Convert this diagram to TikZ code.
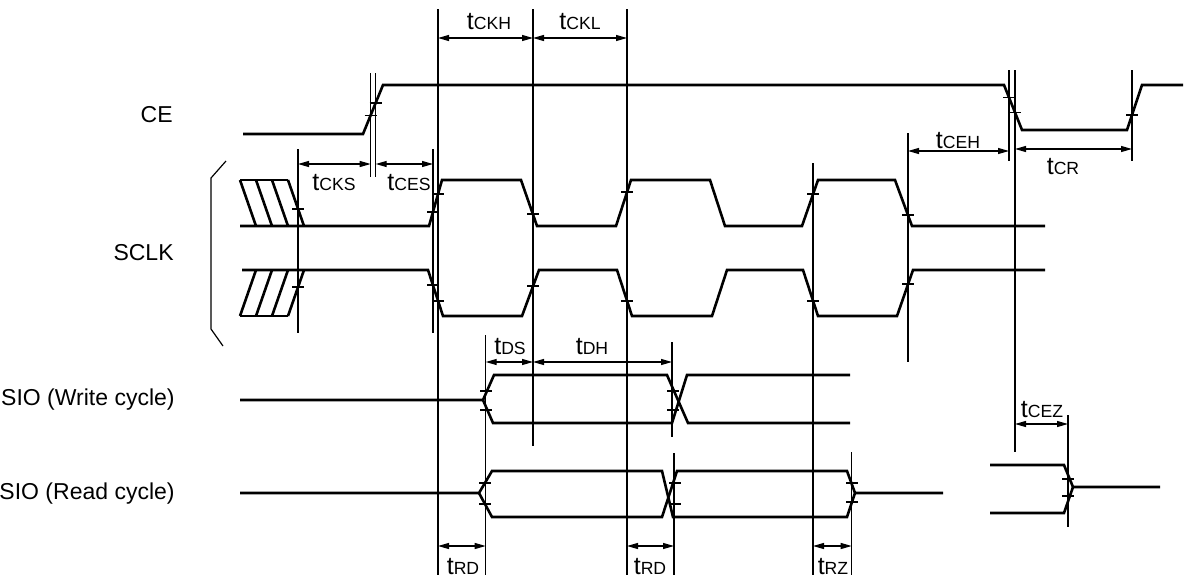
\documentclass[tikz,border=0pt]{standalone}
\usepackage{fontspec}
\setmainfont{Liberation Sans}
\usepackage{tikz}
\usetikzlibrary{calc,positioning}
\usetikzlibrary{arrows.meta}
\tikzset{>={Triangle[width=3pt,length=5.5pt]}}

\newcommand{\tname}[1]{{\fontsize{12.5}{12}\selectfont t}{\fontsize{8.8}{9}\selectfont #1}}

\begin{document}
\begin{tikzpicture}[x=0.5pt,y=-0.5pt]
      \useasboundingbox (0,0) rectangle (1190,580);
      \begin{scope}
        \tikzstyle{wave} = [line width=1.3pt, line join=miter]
        \tikzstyle{vline} = [line width=0.6pt]
        \tikzstyle{tick} = [line width=0.6pt]
        \tikzstyle{dim} = [<->, line width=0.6pt]
        \tikzstyle{tnode} = [inner sep=0pt]
        \tikzstyle{snode} = [inner sep=0pt, anchor=east, font=\fontsize{11.5}{13}\selectfont]

        % signal names
        \node[snode] (ce) at (173,115) {CE};
        \node[snode] (sclk) at (174,253) {SCLK};
        \node[snode] (siow) at (175,400) {SIO (Write cycle)};
        \node[snode] (sior) at (175,494) {SIO (Read cycle)};
        \draw[vline] (226,161) -- (211,178) -- (211,329) -- (223,346);

        % reference lines
        \draw[vline] (298,149) -- (298,333);
        \draw[vline] (370.7,73) -- (370.7,177);
        \draw[vline] (375.7,73) -- (375.7,177);
        \draw[vline] (433,149) -- (433,333);
        \draw[vline] (438,9) -- (438,575);
        \draw[vline] (533,9) -- (533,446);
        \draw[vline] (627,9) -- (627,575);
        \draw[vline] (485.7,335) -- (485.7,575);
        \draw[vline] (672,342) -- (672,437);
        \draw[vline] (674,453) -- (674,575);
        \draw[vline] (813,163) -- (813,575);
        \draw[vline] (851.7,452) -- (851.7,575);
        \draw[vline] (908,133) -- (908,362);
        \draw[vline] (1009,70) -- (1009,161);
        \draw[vline] (1015,70) -- (1015,452);
        \draw[vline] (1068,415) -- (1068,527);
        \draw[vline] (1132,70) -- (1132,161);

        % CE
        \draw[wave] (243,134) -- (363,134) -- (383,85) -- (1004,85) -- (1022,130)
          -- (1127,130) -- (1142,85) -- (1183,85);

        % SCLK
        \draw[wave] (240,180) -- (288,180);
        \draw[wave] (240,180) -- (256,226) (256,180) -- (272,226)
          (272,180) -- (288,226) (288,180) -- (304,226);
        \draw[wave] (240,226) -- (429,226) -- (442,180) -- (521,180) -- (537,226)
          -- (616,226) -- (631,180) -- (710,180) -- (725,226) -- (802,226)
          -- (818,180) -- (895,180) -- (912,226) -- (1045,226);
        \draw[wave] (240,316) -- (288,316);
        \draw[wave] (240,316) -- (256,270) (256,316) -- (272,270)
          (272,316) -- (288,270) (288,316) -- (304,270);
        \draw[wave] (242,270) -- (428,270) -- (443,316) -- (522,316) -- (539,270)
          -- (617,270) -- (632,316) -- (712,316) -- (727,270) -- (803,270)
          -- (818,316) -- (897,316) -- (913,270) -- (1045,270);

        % SIO write
        \draw[wave] (240,400) -- (483,400) -- (494,375) -- (667,375) -- (688,423) -- (850,423);
        \draw[wave] (483,400) -- (493,423) -- (672,423) -- (687,375) -- (850,375);

        % SIO read
        \draw[wave] (240,493) -- (479,493) -- (492,471) -- (662,471) -- (673,517)
          -- (847,517) -- (855,493) -- (943,493);
        \draw[wave] (479,493) -- (492,517) -- (662,517) -- (677,471) -- (847,471) -- (855,493);
        \draw[wave] (990,465) -- (1064,465) -- (1073,487) -- (1160,487);
        \draw[wave] (990,513) -- (1064,513) -- (1073,487);

        % crossing marks
        \draw[tick] (364.7,115.1) -- ++(12,0) (369.7,102.9) -- ++(12,0)
          (1003,97.5) -- ++(12,0) (1009,112.5) -- ++(12,0) (1126,115) -- ++(12,0)
          (292,209) -- ++(12,0) (292,287) -- ++(12,0)
          (427,212) -- ++(12,0) (432,194) -- ++(12,0)
          (427,285) -- ++(12,0) (432,301) -- ++(12,0)
          (527,214) -- ++(12,0) (527,286) -- ++(12,0)
          (621,192) -- ++(12,0) (621,301) -- ++(12,0)
          (807,194) -- ++(12,0) (807,301) -- ++(12,0)
          (902,215) -- ++(12,0) (902,284) -- ++(12,0)
          (480,391) -- ++(12,0) (480,410) -- ++(12,0)
          (667,391) -- ++(12,0) (667,410) -- ++(12,0)
          (479,483) -- ++(12,0) (479,504) -- ++(12,0)
          (669,483) -- ++(12,0) (669,504) -- ++(12,0)
          (846,483) -- ++(12,0) (846,502) -- ++(12,0)
          (1062,479) -- ++(12,0) (1062,496) -- ++(12,0);

        % timing arrows
        \coordinate (ckh-l) at (438,38);
        \coordinate (ckh-r) at (533,38);
        \coordinate (ckl-r) at (627,38);
        \coordinate (cks-l) at (298,164);
        \coordinate (cks-r) at (370.7,164);
        \coordinate (ces-l) at (375.7,164);
        \coordinate (ces-r) at (433,164);
        \coordinate (ceh-l) at (908,151);
        \coordinate (ceh-r) at (1009,151);
        \coordinate (cr-l) at (1015,149);
        \coordinate (cr-r) at (1132,149);
        \coordinate (ds-l) at (485.7,362);
        \coordinate (ds-r) at (533,362);
        \coordinate (dh-r) at (672,362);
        \coordinate (cez-l) at (1015,424);
        \coordinate (cez-r) at (1068,424);
        \coordinate (rda-l) at (438,546);
        \coordinate (rda-r) at (485.7,546);
        \coordinate (rdb-l) at (627,546);
        \coordinate (rdb-r) at (674,546);
        \coordinate (rz-l) at (813,546);
        \coordinate (rz-r) at (851.7,546);
        \path[dim]
        (ckh-l) edge (ckh-r)
        (ckh-r) edge (ckl-r)
        (cks-l) edge (cks-r)
        (ces-l) edge (ces-r)
        (ceh-l) edge (ceh-r)
        (cr-l) edge (cr-r)
        (ds-l) edge (ds-r)
        (ds-r) edge (dh-r)
        (cez-l) edge (cez-r)
        (rda-l) edge (rda-r)
        (rdb-l) edge (rdb-r)
        (rz-l) edge (rz-r)
        ;

        \node[tnode] (t-ckh) at (489,22) {\tname{CKH}};
        \node[tnode] (t-ckl) at (580,22) {\tname{CKL}};
        \node[tnode] (t-cks) at (334,183) {\tname{CKS}};
        \node[tnode] (t-ces) at (409,183) {\tname{CES}};
        \node[tnode] (t-ceh) at (958,141) {\tname{CEH}};
        \node[tnode] (t-cr) at (1063,167) {\tname{CR}};
        \node[tnode] (t-ds) at (510,347) {\tname{DS}};
        \node[tnode] (t-dh) at (592,347) {\tname{DH}};
        \node[tnode] (t-cez) at (1042,410) {\tname{CEZ}};
        \node[tnode] (t-rda) at (463,567) {\tname{RD}};
        \node[tnode] (t-rdb) at (650,567) {\tname{RD}};
        \node[tnode] (t-rz) at (833,567) {\tname{RZ}};
      \end{scope}
    \end{tikzpicture}
\end{document}
